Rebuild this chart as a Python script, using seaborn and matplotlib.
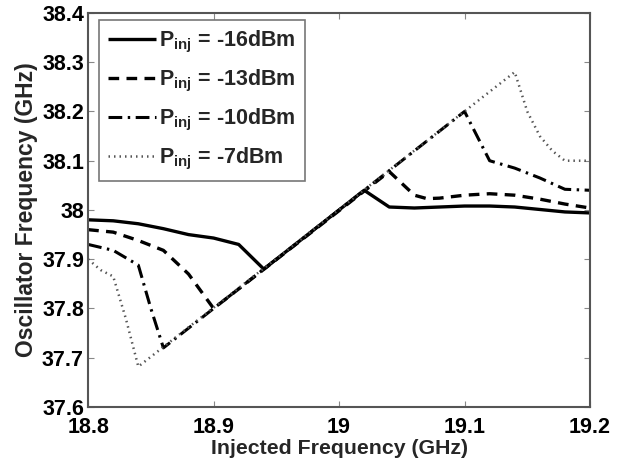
import matplotlib
matplotlib.use("Agg")
import matplotlib.pyplot as plt
import seaborn as sns
import pandas as pd
from matplotlib.ticker import FuncFormatter

# Data
x_m16 = [18.80, 18.82, 18.84, 18.86, 18.88, 18.90, 18.92, 18.94, 19.02, 19.04, 19.06, 19.08, 19.10, 19.12, 19.14, 19.16, 19.18, 19.20]
y_m16 = [37.980, 37.978, 37.972, 37.962, 37.950, 37.943, 37.930, 37.880, 38.040, 38.006, 38.004, 38.006, 38.008, 38.008, 38.006, 38.001, 37.996, 37.994]

x_m13 = [18.80, 18.82, 18.84, 18.86, 18.88, 18.90, 19.04, 19.06, 19.07, 19.08, 19.10, 19.12, 19.14, 19.16, 19.18, 19.20]
y_m13 = [37.960, 37.955, 37.938, 37.918, 37.870, 37.800, 38.078, 38.030, 38.023, 38.024, 38.030, 38.033, 38.030, 38.022, 38.012, 38.004]

x_m10 = [18.80, 18.82, 18.84, 18.85, 18.86, 19.10, 19.12, 19.14, 19.16, 19.18, 19.20]
y_m10 = [37.930, 37.918, 37.888, 37.800, 37.720, 38.200, 38.100, 38.085, 38.065, 38.042, 38.040]

x_m7 = [18.80, 18.81, 18.82, 18.83, 18.84, 19.14, 19.15, 19.16, 19.17, 19.18, 19.20]
y_m7 = [37.900, 37.878, 37.865, 37.780, 37.682, 38.280, 38.200, 38.150, 38.120, 38.100, 38.100]

labels = [r"$\mathbf{P_{inj}}$ = -16dBm", r"$\mathbf{P_{inj}}$ = -13dBm",
          r"$\mathbf{P_{inj}}$ = -10dBm", r"$\mathbf{P_{inj}}$ = -7dBm"]
xticks = [18.8, 18.9, 19.0, 19.1, 19.2]
yticks = [37.6, 37.7, 37.8, 37.9, 38.0, 38.1, 38.2, 38.3, 38.4]

sns.set_style("ticks")
plt.rcParams['font.family'] = ['Liberation Sans', 'DejaVu Sans']
plt.rcParams['font.weight'] = 'bold'
plt.rcParams['mathtext.fontset'] = 'custom'
plt.rcParams['mathtext.bf'] = 'Liberation Sans:bold'
plt.rcParams['mathtext.rm'] = 'Liberation Sans:bold'
plt.rcParams['mathtext.it'] = 'Liberation Sans:bold'

fig = plt.figure(figsize=(6.25, 4.63), dpi=100)
ax = fig.add_axes([0.141, 0.121, 0.803, 0.851])

series = [(x_m16, y_m16, (0, ()), 2.4, '#000000'),
          (x_m13, y_m13, (0, (3.2, 2.2)), 2.4, '#000000'),
          (x_m10, y_m10, (0, (4.5, 1.8, 0.8, 1.8)), 2.2, '#000000'),
          (x_m7, y_m7, (0, (0.6, 1.6)), 1.8, '#555555')]

for (xs, ys, ls, lw, c), lab in zip(series, labels):
    df = pd.DataFrame({"x": xs, "y": ys})
    sns.lineplot(data=df, x="x", y="y", ax=ax, color=c, linewidth=lw,
                 linestyle=ls, label=lab, sort=False, estimator=None)

ax.set_xlim(18.8, 19.2)
ax.set_ylim(37.6, 38.4)
ax.set_xticks(xticks)
ax.set_yticks(yticks)
fmt = FuncFormatter(lambda v, p: ("%.1f" % v).rstrip('0').rstrip('.'))
ax.xaxis.set_major_formatter(fmt)
ax.yaxis.set_major_formatter(fmt)
ax.tick_params(direction='in', length=4, width=0.8, labelsize=15.5, top=True, right=True,
               colors='#888888', labelcolor='black')
ax.tick_params(axis='x', pad=7)
ax.tick_params(axis='y', pad=3)
for t in ax.get_xticklabels() + ax.get_yticklabels():
    t.set_fontweight('bold')
for s in ax.spines.values():
    s.set_linewidth(1.5)
    s.set_color('#555555')
    s.set_visible(True)

ax.set_xlabel("Injected Frequency (GHz)", fontsize=15.3, fontweight='bold', labelpad=1)
ax.set_ylabel("Oscillator Frequency (GHz)", fontsize=16.5, fontweight='bold', labelpad=3)

leg = ax.legend(loc='upper left', bbox_to_anchor=(0.022, 0.982), borderaxespad=0,
                fontsize=15.5, frameon=True, fancybox=False,
                handlelength=2.2, handletextpad=0.15, labelspacing=0.6,
                borderpad=0.42)
leg.get_frame().set_edgecolor('#555555')
leg.get_frame().set_linewidth(1.2)
for t in leg.get_texts():
    t.set_fontweight('bold')

fig.savefig("out.png", dpi=100)
